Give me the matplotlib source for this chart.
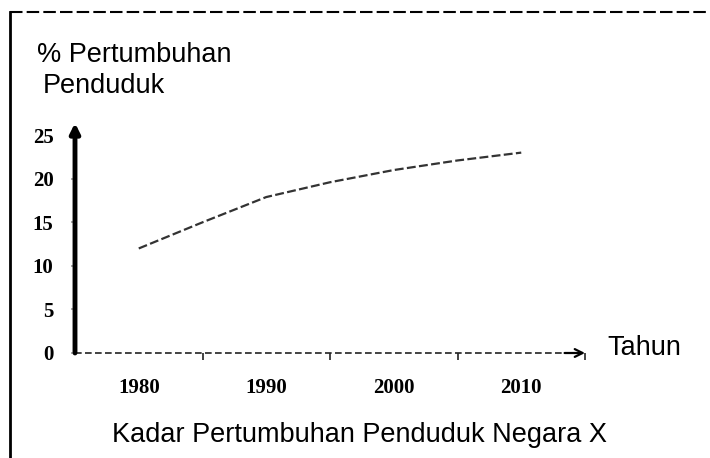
import matplotlib
matplotlib.use("Agg")
import matplotlib.pyplot as plt
from matplotlib.lines import Line2D

# data
tahun = [1980, 1985, 1990, 1995, 2000, 2005, 2010]
pertumbuhan = [12.0, 15.0, 17.9, 19.6, 21.0, 22.1, 23.0]
label_tahun = [1980, 1990, 2000, 2010]
label_y = [0, 5, 10, 15, 20, 25]

W, H = 710, 458
fig = plt.figure(figsize=(W / 100, H / 100), dpi=100)
fig.patch.set_facecolor("white")

ax = fig.add_axes([75 / W, 105 / H, 510 / W, 230 / H])
ax.set_xlim(1975, 2015)
ax.set_ylim(0, 26.4)
for s in ax.spines.values():
    s.set_visible(False)

# garis data
ax.plot(tahun, pertumbuhan, color="#333333", lw=1.6, linestyle=(0, (4, 1.5)))

# paksi y (anak panah tebal)
ax.annotate("", xy=(0, 1.0), xytext=(0, 0), xycoords="axes fraction",
            arrowprops=dict(arrowstyle="-|>", lw=3.5, color="black",
                            mutation_scale=14, shrinkA=0, shrinkB=0))
# paksi x (garis putus-putus + kepala panah)
ax.plot([0, 0.985], [0, 0], transform=ax.transAxes, color="#222222",
        lw=1.2, linestyle=(0, (4, 2)), clip_on=False)
ax.annotate("", xy=(1.0, 0), xytext=(0.96, 0), xycoords="axes fraction",
            arrowprops=dict(arrowstyle="->", lw=1.6, color="black",
                            mutation_scale=14, shrinkA=0, shrinkB=0))

serif = dict(family="Liberation Serif", weight="bold", size=15)
ax.set_xticks(label_tahun)
ax.set_xticklabels([str(t) for t in label_tahun], fontdict=serif)
ax.set_xticks([1985, 1995, 2005, 2015], minor=True)
ax.tick_params(axis="x", which="major", length=0, pad=18)
ax.tick_params(axis="x", which="minor", length=5, width=1.2, color="#222222")

ax.set_yticks(label_y)
ax.set_yticklabels([str(v) for v in label_y], fontdict=serif)
ax.tick_params(axis="y", which="major", length=3, width=1.2, color="#999999", pad=12.5)

sans = dict(family="Liberation Sans", size=19.5, color="black")
fig.text(37 / W, 1 - 62 / H, "% Pertumbuhan", ha="left", va="baseline", **sans)
fig.text(43 / W, 1 - 93 / H, "Penduduk", ha="left", va="baseline", **sans)
fig.text(607 / W, 1 - 355 / H, "Tahun", ha="left", va="baseline", **sans)
fig.text(112 / W, 1 - 442 / H, "Kadar Pertumbuhan Penduduk Negara X",
         ha="left", va="baseline", **sans)

# bingkai atas dan kiri
fig.add_artist(Line2D([10 / W, 1], [1 - 12 / H, 1 - 12 / H], transform=fig.transFigure,
                      color="black", lw=1.5, linestyle=(0, (6, 2))))
fig.add_artist(Line2D([10 / W, 10 / W], [1 - 12 / H, 0], transform=fig.transFigure,
                      color="black", lw=2))

fig.savefig("out.png", dpi=100)
